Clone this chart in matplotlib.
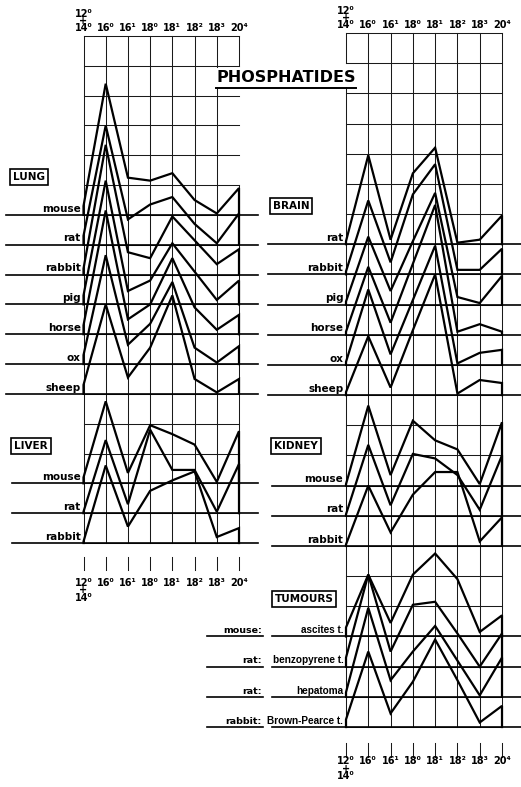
import matplotlib
matplotlib.use('Agg')
import matplotlib.pyplot as plt
from matplotlib.lines import Line2D

plt.rcParams['font.family'] = ['DejaVu Sans']

# ---------------- data (percent of total fatty acids) ----------------
columns = ['12⁰\n+\n14⁰', '16⁰', '16¹', '18⁰', '18¹', '18²', '18³', '20⁴']

lung_species = ['mouse', 'rat', 'rabbit', 'pig', 'horse', 'ox', 'sheep']
lung_mouse  = [3, 44.0, 12.5, 11.5, 14.0, 5.0, 0.5, 9.0]
lung_rat    = [3, 40.0, 8.5, 13.5, 16.0, 7.0, 0.5, 10.5]
lung_rabbit = [2, 43.5, 7.5, 5.5, 19.5, 11.5, 3.5, 8.5]
lung_pig    = [3, 41.5, 4.5, 8.0, 20.5, 11.0, 1.5, 8.0]
lung_horse  = [3, 41.5, 5.0, 10.0, 25.5, 9.0, 1.5, 6.5]
lung_ox     = [3, 36.5, 6.5, 13.5, 27.5, 5.5, 0.5, 6.0]
lung_sheep  = [3, 30.0, 5.5, 15.5, 33.0, 5.0, 0.5, 5.0]

liver_species = ['mouse', 'rat', 'rabbit']
liver_mouse  = [2, 27.5, 3.5, 19.5, 16.5, 13.0, 0.5, 17.5]
liver_rat    = [0.5, 24.5, 3.0, 28.0, 14.5, 14.5, 0.5, 16.5]
liver_rabbit = [0.5, 26.0, 5.5, 17.5, 21.0, 24.0, 2.0, 5.0]

brain_species = ['rat', 'rabbit', 'pig', 'horse', 'ox', 'sheep']
brain_rat    = [1, 29.5, 1.5, 23.5, 32.0, 0.5, 1.5, 9.5]
brain_rabbit = [1, 24.5, 4.0, 26.5, 36.5, 1.5, 1.5, 8.5]
brain_pig    = [1, 22.5, 4.5, 21.0, 37.0, 2.5, 0.5, 9.5]
brain_horse  = [1, 22.5, 4.0, 23.5, 43.0, 1.0, 3.5, 1.0]
brain_ox     = [1, 25.0, 3.5, 21.5, 39.5, 0.5, 4.0, 5.0]
brain_sheep  = [1, 19.5, 2.5, 21.5, 40.0, 0.5, 5.0, 4.0]

kidney_species = ['mouse', 'rat', 'rabbit']
kidney_mouse  = [0.5, 26.5, 3.5, 21.5, 15.0, 12.0, 0.5, 21.0]
kidney_rat    = [0.5, 23.5, 3.5, 20.5, 19.0, 13.5, 2.0, 20.0]
kidney_rabbit = [0.5, 20.0, 4.5, 17.0, 24.5, 24.5, 1.5, 9.5]

tumour_hosts = ['mouse:', 'rat:', 'rat:', 'rabbit:']
tumour_names = ['ascites t.', 'benzopyrene t.', 'hepatoma', 'Brown-Pearce t.']
tumour_ascites     = [3, 20.5, 4.5, 20.5, 27.5, 19.0, 1.5, 7.0]
tumour_benzopyrene = [3, 30.5, 5.0, 20.5, 21.5, 11.0, 0.0, 11.0]
tumour_hepatoma    = [1.5, 29.5, 5.5, 15.0, 23.5, 12.0, 0.5, 13.0]
tumour_brownpearce = [2.5, 25.0, 4.5, 15.0, 29.0, 15.5, 1.5, 7.0]

# ---------------- layout ----------------
W, H = 521, 787
fig = plt.figure(figsize=(W / 100, H / 100), dpi=100)
fig.patch.set_facecolor('white')


def px_axes(x0, x1, ytop, ybot):
    return fig.add_axes([x0 / W, 1 - ybot / H, (x1 - x0) / W, (ybot - ytop) / H])


NL, NR = 17, 23
axL = px_axes(83.5, 239, 36, 543)
axR = px_axes(346, 502, 33, 727)
for ax, n in ((axL, NL), (axR, NR)):
    ax.set_xlim(0, len(columns) - 1)
    ax.set_ylim(-10 * n, 0)
    ax.axis('off')

GRID = dict(color='#1a1a1a', lw=0.75, zorder=1, clip_on=False)
LINE = dict(color='black', lw=1.6, zorder=3, clip_on=False, solid_joinstyle='miter')
BASE = dict(color='black', lw=1.2, zorder=2, clip_on=False)
ncol = len(columns)


def draw_grid(ax, n, gaps):
    for i in range(ncol):
        segs = [(-10 * n, 0)]
        if i in gaps:
            lo, hi = gaps[i]
            segs = [(-10 * n, lo), (hi, 0)]
        for a, b in segs:
            ax.plot([i, i], [a, b], **GRID)
    for k in range(n + 1):
        ax.plot([0, ncol - 1], [-10 * k, -10 * k], **GRID)


draw_grid(axL, NL, {7: (-50, -10)})
draw_grid(axR, NR, {0: (-18, -10)})


def profile(ax, level, values):
    base = -10 * level
    xs = [0] + list(range(len(values))) + [len(values) - 1]
    ys = [base] + [base + v for v in values] + [base]
    ax.plot(xs, ys, **LINE)


def baseline(ax, level, x0, x1):
    ax.plot([x0, x1], [-10 * level] * 2, **BASE)


LBL = dict(fontsize=7.5, fontweight='bold', ha='right', va='baseline')

# Lung
lung_data = [lung_mouse, lung_rat, lung_rabbit, lung_pig, lung_horse, lung_ox, lung_sheep]
for j, (name, vals) in enumerate(zip(lung_species, lung_data)):
    lev = 6 + j
    baseline(axL, lev, -3.5, 7.85)
    profile(axL, lev, vals)
    axL.text(-0.12, -10 * lev + 1.1, name, **LBL)

# Liver
liver_data = [liver_mouse, liver_rat, liver_rabbit]
for j, (name, vals) in enumerate(zip(liver_species, liver_data)):
    lev = 15 + j
    baseline(axL, lev, -3.2, 7.85)
    profile(axL, lev, vals)
    axL.text(-0.12, -10 * lev + 1.1, name, **LBL)

# Brain
brain_data = [brain_rat, brain_rabbit, brain_pig, brain_horse, brain_ox, brain_sheep]
for j, (name, vals) in enumerate(zip(brain_species, brain_data)):
    lev = 7 + j
    baseline(axR, lev, -3.5, 7.9)
    profile(axR, lev, vals)
    axR.text(-0.12, -10 * lev + 1.1, name, **LBL)

# Kidney
kidney_data = [kidney_mouse, kidney_rat, kidney_rabbit]
for j, (name, vals) in enumerate(zip(kidney_species, kidney_data)):
    lev = 15 + j
    baseline(axR, lev, -3.3, 7.9)
    profile(axR, lev, vals)
    axR.text(-0.12, -10 * lev + 1.1, name, **LBL)

# Tumours
name_font = dict(family=['Liberation Sans', 'DejaVu Sans'], fontsize=7.2, fontweight='bold')
tumour_data = [tumour_ascites, tumour_benzopyrene, tumour_hepatoma, tumour_brownpearce]
for j, (host, name, vals) in enumerate(zip(tumour_hosts, tumour_names, tumour_data)):
    lev = 20 + j
    baseline(axR, lev, -6.25, -3.72)
    baseline(axR, lev, -3.3, 7.9)
    profile(axR, lev, vals)
    axR.text(-0.12, -10 * lev + 1.1, name, ha='right', va='baseline', **name_font)
    axR.text(-3.78, -10 * lev + 1.1, host, fontsize=6.8, fontweight='bold',
             ha='right', va='baseline')

# ---------------- column labels ----------------
TK = dict(fontsize=7, fontweight='bold', ha='center', clip_on=False)


def col_labels(ax, y, va, spacing):
    for i, lab in enumerate(columns):
        ax.text(i, y, lab, va=va, linespacing=spacing, **TK)


# top labels (stacked first label grows upward)
col_labels(axL, 1.7, 'baseline', 0.62)
col_labels(axR, 1.7, 'baseline', 0.62)
# bottom ticks + labels
for ax, n, a, b in ((axL, NL, 4.7, 9.0), (axR, NR, 5.3, 10.0)):
    for i in range(ncol):
        ax.plot([i, i], [-10 * n - a, -10 * n - b], **GRID)
col_labels(axL, -181.6, 'top', 0.7)
col_labels(axR, -239.6, 'top', 0.7)

# ---------------- boxed section headings ----------------
BOX = dict(fontsize=7.5, fontweight='bold', ha='center', va='center',
           bbox=dict(boxstyle='square,pad=0.28', facecolor='white', edgecolor='black', lw=1.2))
for txt, (cx, cy) in (('LUNG', (29, 177)), ('BRAIN', (291, 206)), ('LIVER', (31, 446)),
                      ('KIDNEY', (296, 446)), ('TUMOURS', (304, 599))):
    fig.text(cx / W, 1 - cy / H, txt, **BOX)

# ---------------- title ----------------
title = fig.text(286 / W, 1 - 77.5 / H, 'PHOSPHATIDES', fontsize=11.5, fontweight='bold',
                 ha='center', va='center',
                 bbox=dict(boxstyle='square,pad=0.15', facecolor='white', edgecolor='none'))
fig.canvas.draw()
bb = title.get_window_extent()
fig.add_artist(Line2D([bb.x0 / W, bb.x1 / W], [(bb.y0 - 2.5) / H] * 2,
                      color='black', lw=1.4, transform=fig.transFigure))

fig.savefig('out.png', dpi=100, facecolor='white')
